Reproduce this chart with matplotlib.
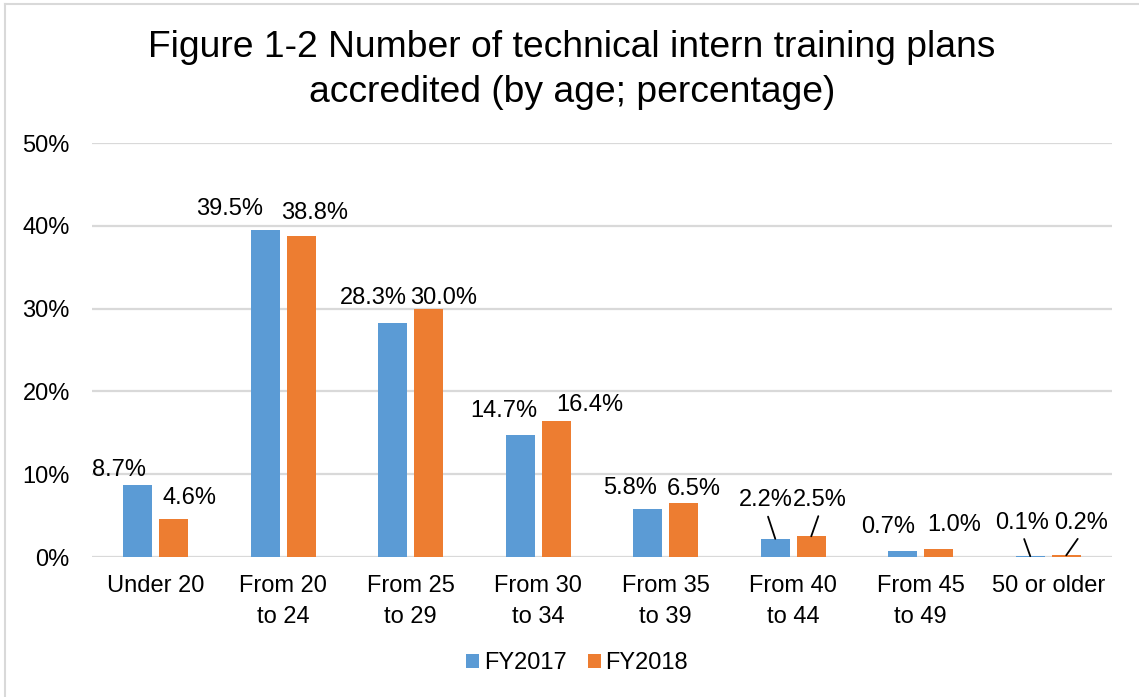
import numpy as np
import matplotlib
matplotlib.use("Agg")
import matplotlib.pyplot as plt
from matplotlib.lines import Line2D

# ------------------------------------------------------------
# Data
# ------------------------------------------------------------

categories = [
    "Under 20",
    "From 20\nto 24",
    "From 25\nto 29",
    "From 30\nto 34",
    "From 35\nto 39",
    "From 40\nto 44",
    "From 45\nto 49",
    "50 or older",
]

fy2017 = [8.7, 39.5, 28.3, 14.7, 5.8, 2.2, 0.7, 0.1]
fy2018 = [4.6, 38.8, 30.0, 16.4, 6.5, 2.5, 1.0, 0.2]

series_names = ["FY2017", "FY2018"]

y_ticks = [0, 10, 20, 30, 40, 50]

title = "Figure 1-2 Number of technical intern training plans\naccredited (by age; percentage)"

# ------------------------------------------------------------
# Label layout (pixel offsets from bar top centre to label centre)
# ------------------------------------------------------------

offsets_2017 = [(-19, 17), (-36, 23), (-19, 27), (-16, 27),
                (-18, 23), (-9, 41), (-15, 27), (-8, 36)]
offsets_2018 = [(16, 23), (13, 25), (15, 13), (34, 19),
                (10, 17), (9, 39), (15, 26), (15, 35)]
leaders = [5, 7]

# ------------------------------------------------------------
# Style
# ------------------------------------------------------------

plt.rcParams["font.family"] = ["Liberation Sans", "DejaVu Sans"]

BLUE = "#5b9bd5"
ORANGE = "#ed7d31"
GRID = "#d9d9d9"
FS = 17

W, H = 1139, 697

fig = plt.figure(figsize=(W / 100, H / 100), dpi=100)

ax = fig.add_axes([
    92 / W,
    1 - 557 / H,
    (1112 - 92) / W,
    (557 - 143) / H,
])

x = np.arange(len(categories))
bw = 0.224
off = 0.141

bars1 = ax.bar(x - off, fy2017, bw, color=BLUE, label=series_names[0], zorder=3)
bars2 = ax.bar(x + off, fy2018, bw, color=ORANGE, label=series_names[1], zorder=3)

ax.set_xlim(-0.5, len(categories) - 0.5)
ax.set_ylim(0, 50)
ax.set_yticks(y_ticks)
ax.set_yticklabels([f"{t}%" for t in y_ticks])
ax.set_xticks(x)
ax.set_xticklabels(categories, linespacing=1.5)

ax.tick_params(axis="y", length=0, pad=16, labelsize=FS)
ax.tick_params(axis="x", length=0, pad=13, labelsize=FS)

ax.grid(axis="y", color=GRID, lw=1.6, zorder=0)
ax.set_axisbelow(True)
for s in ax.spines.values():
    s.set_visible(False)

# ------------------------------------------------------------
# Data labels
# ------------------------------------------------------------

cap = 0.716 * FS * 100 / 72 / 2


def add_labels(xs, vals, offsets):
    for i, (xi, v, (dx, dy)) in enumerate(zip(xs, vals, offsets)):
        kw = {}
        if i in leaders:
            kw["arrowprops"] = dict(
                arrowstyle="-", color="black", lw=1.3,
                shrinkA=2, shrinkB=0, relpos=(0.5, 0),
            )
        ax.annotate(
            f"{v:.1f}%",
            xy=(xi, v),
            xytext=(dx, dy - cap),
            textcoords="offset pixels",
            ha="center",
            va="baseline",
            fontsize=FS,
            annotation_clip=False,
            **kw,
        )


add_labels(x - off, fy2017, offsets_2017)
add_labels(x + off, fy2018, offsets_2018)

# ------------------------------------------------------------
# Title, legend, border
# ------------------------------------------------------------

fig.text(
    572 / W, 1 - 70 / H, title,
    ha="center", va="center", fontsize=26.8, linespacing=1.36,
)

fig.legend(
    handles=[bars1, bars2],
    labels=series_names,
    loc="center",
    bbox_to_anchor=(577 / W, 1 - 663 / H),
    ncol=2,
    frameon=False,
    fontsize=FS,
    handlelength=0.55,
    handleheight=0.55,
    handletextpad=0.2,
    columnspacing=0.9,
)

fig.add_artist(Line2D([5 / W, 1], [1 - 4 / H, 1 - 4 / H],
                      transform=fig.transFigure, color=GRID, lw=1.5))
fig.add_artist(Line2D([5 / W, 5 / W], [0, 1 - 4 / H],
                      transform=fig.transFigure, color=GRID, lw=1.5))

fig.savefig("out.png", dpi=100)
